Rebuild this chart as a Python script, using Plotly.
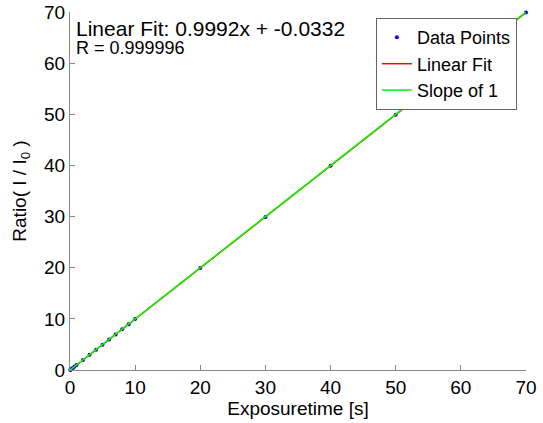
import plotly.graph_objects as go

exposure_s = [0.05, 0.1, 0.2, 0.3, 0.5, 0.7, 1, 2, 3, 4, 5, 6, 7, 8, 9, 10, 20, 30, 40, 50, 60, 70]
ratio = [0.02, 0.07, 0.16, 0.27, 0.46, 0.66, 0.96, 1.97, 2.96, 3.95, 4.96, 5.96, 6.95, 7.96, 8.95, 9.95,
         19.95, 29.94, 39.93, 49.92, 59.93, 69.91]
fit_slope = 0.9992
fit_intercept = -0.0332
line_x = [0, 70]
x_ticks = [0, 10, 20, 30, 40, 50, 60, 70]
y_ticks = [0, 10, 20, 30, 40, 50, 60, 70]

FONT = "Liberation Sans, Arial, sans-serif"

fig = go.Figure()
fig.add_trace(go.Scatter(x=exposure_s, y=ratio, mode="markers", name="Data Points",
                         marker=dict(color="#0000ff", size=4), cliponaxis=False))
fig.add_trace(go.Scatter(x=line_x, y=[fit_slope * v + fit_intercept for v in line_x], mode="lines",
                         name="Linear Fit", line=dict(color="#ff0000", width=1.5)))
fig.add_trace(go.Scatter(x=line_x, y=line_x, mode="lines", name="Slope of 1",
                         line=dict(color="#00ff00", width=1.5)))

axis_common = dict(showgrid=False, zeroline=False, showline=True, linecolor="#888888", linewidth=1,
                   ticks="inside", ticklen=5, tickcolor="#888888", mirror=False, automargin=False,
                   tickfont=dict(family=FONT, size=19, color="black"))
fig.update_xaxes(range=[0, 70], tickvals=x_ticks, ticklabelstandoff=0,
                 title=dict(text="Exposuretime [s]", font=dict(family=FONT, size=19, color="black"), standoff=0),
                 **axis_common)
fig.update_yaxes(range=[0, 70], tickvals=y_ticks, ticklabelstandoff=0,
                 title=dict(text="Ratio( I / I<sub>0</sub> )", font=dict(family=FONT, size=19, color="black"), standoff=12),
                 **axis_common)

fig.add_annotation(x=0, y=1, xref="paper", yref="paper", xanchor="left", yanchor="top", xshift=4, yshift=-3,
                   text="Linear Fit: 0.9992x + -0.0332", showarrow=False, align="left",
                   font=dict(family=FONT, size=21, color="black"))
fig.add_annotation(x=0, y=1, xref="paper", yref="paper", xanchor="left", yanchor="top", xshift=4, yshift=-24,
                   text="R = 0.999996", showarrow=False, align="left",
                   font=dict(family=FONT, size=18, color="black"))

fig.update_layout(
    width=543, height=423,
    margin=dict(l=70, r=17, t=12, b=53),
    paper_bgcolor="white", plot_bgcolor="white",
    showlegend=True,
    legend=dict(x=0.98, y=0.983, xanchor="right", yanchor="top", bgcolor="white",
                bordercolor="#666666", borderwidth=1, font=dict(family=FONT, size=18, color="black"),
                tracegroupgap=0, itemwidth=30),
)

# remove the default 8px page margin so the figure sits at the window's top-left corner
fig.write_html("out.html", config={"displayModeBar": False},
               post_script="document.body.style.margin='0';")
